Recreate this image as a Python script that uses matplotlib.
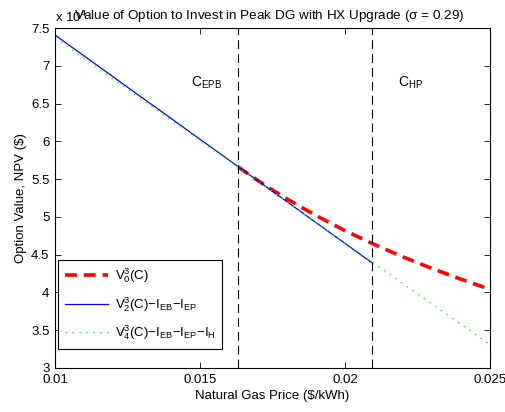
import numpy as np
import matplotlib.pyplot as plt
from matplotlib.ticker import FuncFormatter

# ----- Data (option values in $) -----
c_epb = 0.01632
c_hp = 0.02092

# V0: option value, from C_EPB onward
v0_price = [0.01632, 0.0165, 0.0170, 0.0175, 0.0180, 0.0190, 0.0200,
            0.0210, 0.0220, 0.0230, 0.0240, 0.0250]
v0_value = [56600, 56110, 54800, 53550, 52370, 50180, 48180,
            46370, 44700, 43170, 41750, 40410]

# V2 - I_EB - I_EP, up to C_HP
v2_price = [0.0100, c_hp]
v2_value = [74070, 43950]

# V4 - I_EB - I_EP - I_H, whole range
v4_price = [0.0100, c_hp, 0.0250]
v4_value = [73700, 44050, 33100]

plt.rcParams['font.family'] = ['Liberation Sans', 'DejaVu Sans']
plt.rcParams['mathtext.default'] = 'regular'
plt.rcParams['font.size'] = 9.5

fig = plt.figure(figsize=(5.06, 4.12), dpi=100)
ax = fig.add_axes([0.1087, 0.1068, 0.8597, 0.8252])

ax.plot(v0_price, v0_value, color='red', lw=2.6, dashes=(3.3, 1.9),
        label=r'$V_0^3(C)$')
ax.plot(v2_price, v2_value, color='blue', lw=0.9,
        label=r'$V_2^3(C){-}I_{EB}{-}I_{EP}$')
ax.plot(v4_price, v4_value, color='#2ee82e', lw=1.0, dashes=(1, 4),
        label=r'$V_4^3(C){-}I_{EB}{-}I_{EP}{-}I_H$')

for c in (c_epb, c_hp):
    ax.axvline(c, color='black', lw=0.8, dashes=(8, 4.5))

ax.text(0.01470, 67300, r'$C_{EPB}$', fontsize=10)
ax.text(0.02184, 67300, r'$C_{HP}$', fontsize=10)

ax.set_xlim(0.01, 0.025)
ax.set_ylim(30000, 75000)
ax.set_xticks([0.01, 0.015, 0.02, 0.025])
ax.set_yticks(np.arange(30000, 75001, 5000))
ax.xaxis.set_major_formatter(FuncFormatter(lambda v, p: f'{v:g}'))
ax.yaxis.set_major_formatter(FuncFormatter(lambda v, p: f'{v / 1e4:g}'))
ax.tick_params(direction='in', top=True, right=True, length=4, width=0.6,
               labelsize=9.5, pad=4)
for s in ax.spines.values():
    s.set_linewidth(0.8)

ax.set_xlabel('Natural Gas Price ($/kWh)', fontsize=9.5, labelpad=3)
ax.set_ylabel('Option Value, NPV ($)', fontsize=9.5, labelpad=3)
fig.text(0.532, 0.955, r'Value of Option to Invest in Peak DG with HX Upgrade ($\sigma$ = 0.29)',
         fontsize=9.7, ha='center', va='baseline')
fig.text(0.108, 0.947, r'x $10^4$', fontsize=9.5, va='baseline')

leg = ax.legend(loc='lower left', bbox_to_anchor=(0.007, 0.056), borderaxespad=0,
                fontsize=9.5, fancybox=False, framealpha=1, edgecolor='black',
                handlelength=3.3, handletextpad=0.5, labelspacing=0.75,
                borderpad=0.5)
leg.get_frame().set_linewidth(0.8)

fig.savefig('out.png', dpi=100)
